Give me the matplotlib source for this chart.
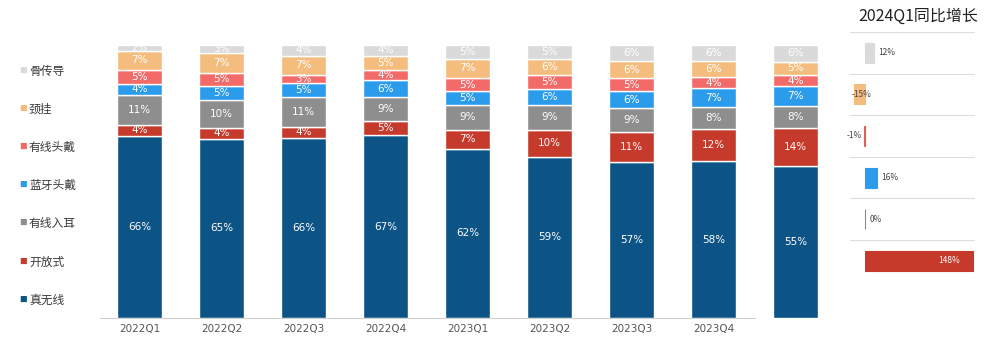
import matplotlib
matplotlib.use("Agg")
import matplotlib.pyplot as plt
import numpy as np

plt.rcParams['font.family'] = ['Noto Sans CJK SC', 'DejaVu Sans']

quarters = ["2022Q1", "2022Q2", "2022Q3", "2022Q4", "2023Q1", "2023Q2", "2023Q3", "2023Q4", "2024Q1"]
quarter_labels = ["2022Q1", "2022Q2", "2022Q3", "2022Q4", "2023Q1", "2023Q2", "2023Q3", "2023Q4", ""]
categories = ["真无线", "开放式", "有线入耳", "蓝牙头戴", "有线头戴", "颈挂", "骨传导"]

tws = [66, 65, 66, 67, 62, 59, 57, 58, 55]
open_ear = [4, 4, 4, 5, 7, 10, 11, 12, 14]
wired_in = [11, 10, 11, 9, 9, 9, 9, 8, 8]
bt_head = [4, 5, 5, 6, 5, 6, 6, 7, 7]
wired_head = [5, 5, 3, 4, 5, 5, 5, 4, 4]
neck = [7, 7, 7, 5, 7, 6, 6, 6, 5]
bone = [2, 3, 4, 4, 5, 5, 6, 6, 6]

series = [tws, open_ear, wired_in, bt_head, wired_head, neck, bone]
colors = ["#0C5486", "#C53A2B", "#8E8E8E", "#2B9BEC", "#F26B68", "#F5BD7D", "#DADADA"]

growth_cats = ["骨传导", "颈挂", "有线头戴", "蓝牙头戴", "有线入耳", "开放式"]
growth_vals = [12, -15, -1, 16, 0, 148]
growth_colors = ["#DADADA", "#F5BD7D", "#E0604F", "#2B9BEC", "#8E8E8E", "#C53A2B"]

W, H = 1000, 342
fig = plt.figure(figsize=(W / 100, H / 100), dpi=100)

# main axes (100% stacked)
axl, axr, axb, axt = 100, 840, 318, 45
ax = fig.add_axes([axl / W, (H - axb) / H, (axr - axl) / W, (axb - axt) / H])
x = np.arange(len(quarters))
totals = np.sum(np.array(series, dtype=float), axis=0)
bottom = np.zeros(len(quarters))
for vals, col in zip(series, colors):
    raw = np.array(vals, dtype=float)
    v = raw / totals * 100
    ax.bar(x, v, bottom=bottom, width=0.55, color=col, edgecolor="white", linewidth=1.0, clip_on=False)
    for xi, b, h, r in zip(x, bottom, v, raw):
        ax.text(xi, b + h / 2, f"{int(r)}%", ha="center", va="center", color="white",
                fontsize=7.5, family="DejaVu Sans")
    bottom += v
ax.set_xlim(-0.48, 8.54)
ax.set_ylim(0, 100)
ax.set_yticks([])
ax.set_xticks(x[:8])
ax.set_xticklabels(quarter_labels[:8], fontsize=7.5, color="#555555", family="DejaVu Sans")
ax.tick_params(axis="x", length=0, pad=4)
for s in ["top", "right", "left"]:
    ax.spines[s].set_visible(False)
ax.spines["bottom"].set_color("#D0D0D0")
ax.spines["bottom"].set_bounds(-0.48, 7.5)

# legend on the left
leg_y = [71, 109, 147, 185, 223, 262, 300]
for cat, col, yy in zip(categories[::-1], colors[::-1], leg_y):
    fig.text(23 / W, (H - yy) / H, "■", color=col, fontsize=5.5, ha="center", va="center")
    fig.text(29 / W, (H - yy) / H, cat, color="#3A3A3A", fontsize=8.5, ha="left", va="center")

# right panel
pl, pr, pt = 850, 975, 32
row_h = 41.6
pb = pt + row_h * 6
axg = fig.add_axes([pl / W, (H - pb) / H, (pr - pl) / W, (pb - pt) / H])
axg.set_xlim(-20.5, 150.7)
axg.set_ylim(6, 0)
yy = np.arange(len(growth_vals)) + 0.5
axg.barh(yy, growth_vals, height=0.48, color=growth_colors, edgecolor=growth_colors, linewidth=0.8)
for i, (v, c) in enumerate(zip(growth_vals, growth_colors)):
    lab = f"{v}%"
    if v >= 100:
        axg.text(v - 18, yy[i], lab, ha="right", va="center", color="white", fontsize=6)
    elif v < -5:
        axg.text(v - 3, yy[i], lab, ha="left", va="center", color="#444444", fontsize=6)
    elif v < 0:
        axg.text(v - 3, yy[i], lab, ha="right", va="center", color="#444444", fontsize=6)
    else:
        axg.text(v + 6, yy[i], lab, ha="left", va="center", color="#444444", fontsize=6)
for j in range(6):
    axg.axhline(j, color="#DDDDDD", linewidth=0.8)
axg.axis("off")
fig.text(918 / W, (H - 16) / H, "2024Q1同比增长", ha="center", va="center", fontsize=11.5, color="#222222")

fig.savefig("out.png", dpi=100, facecolor="white")
